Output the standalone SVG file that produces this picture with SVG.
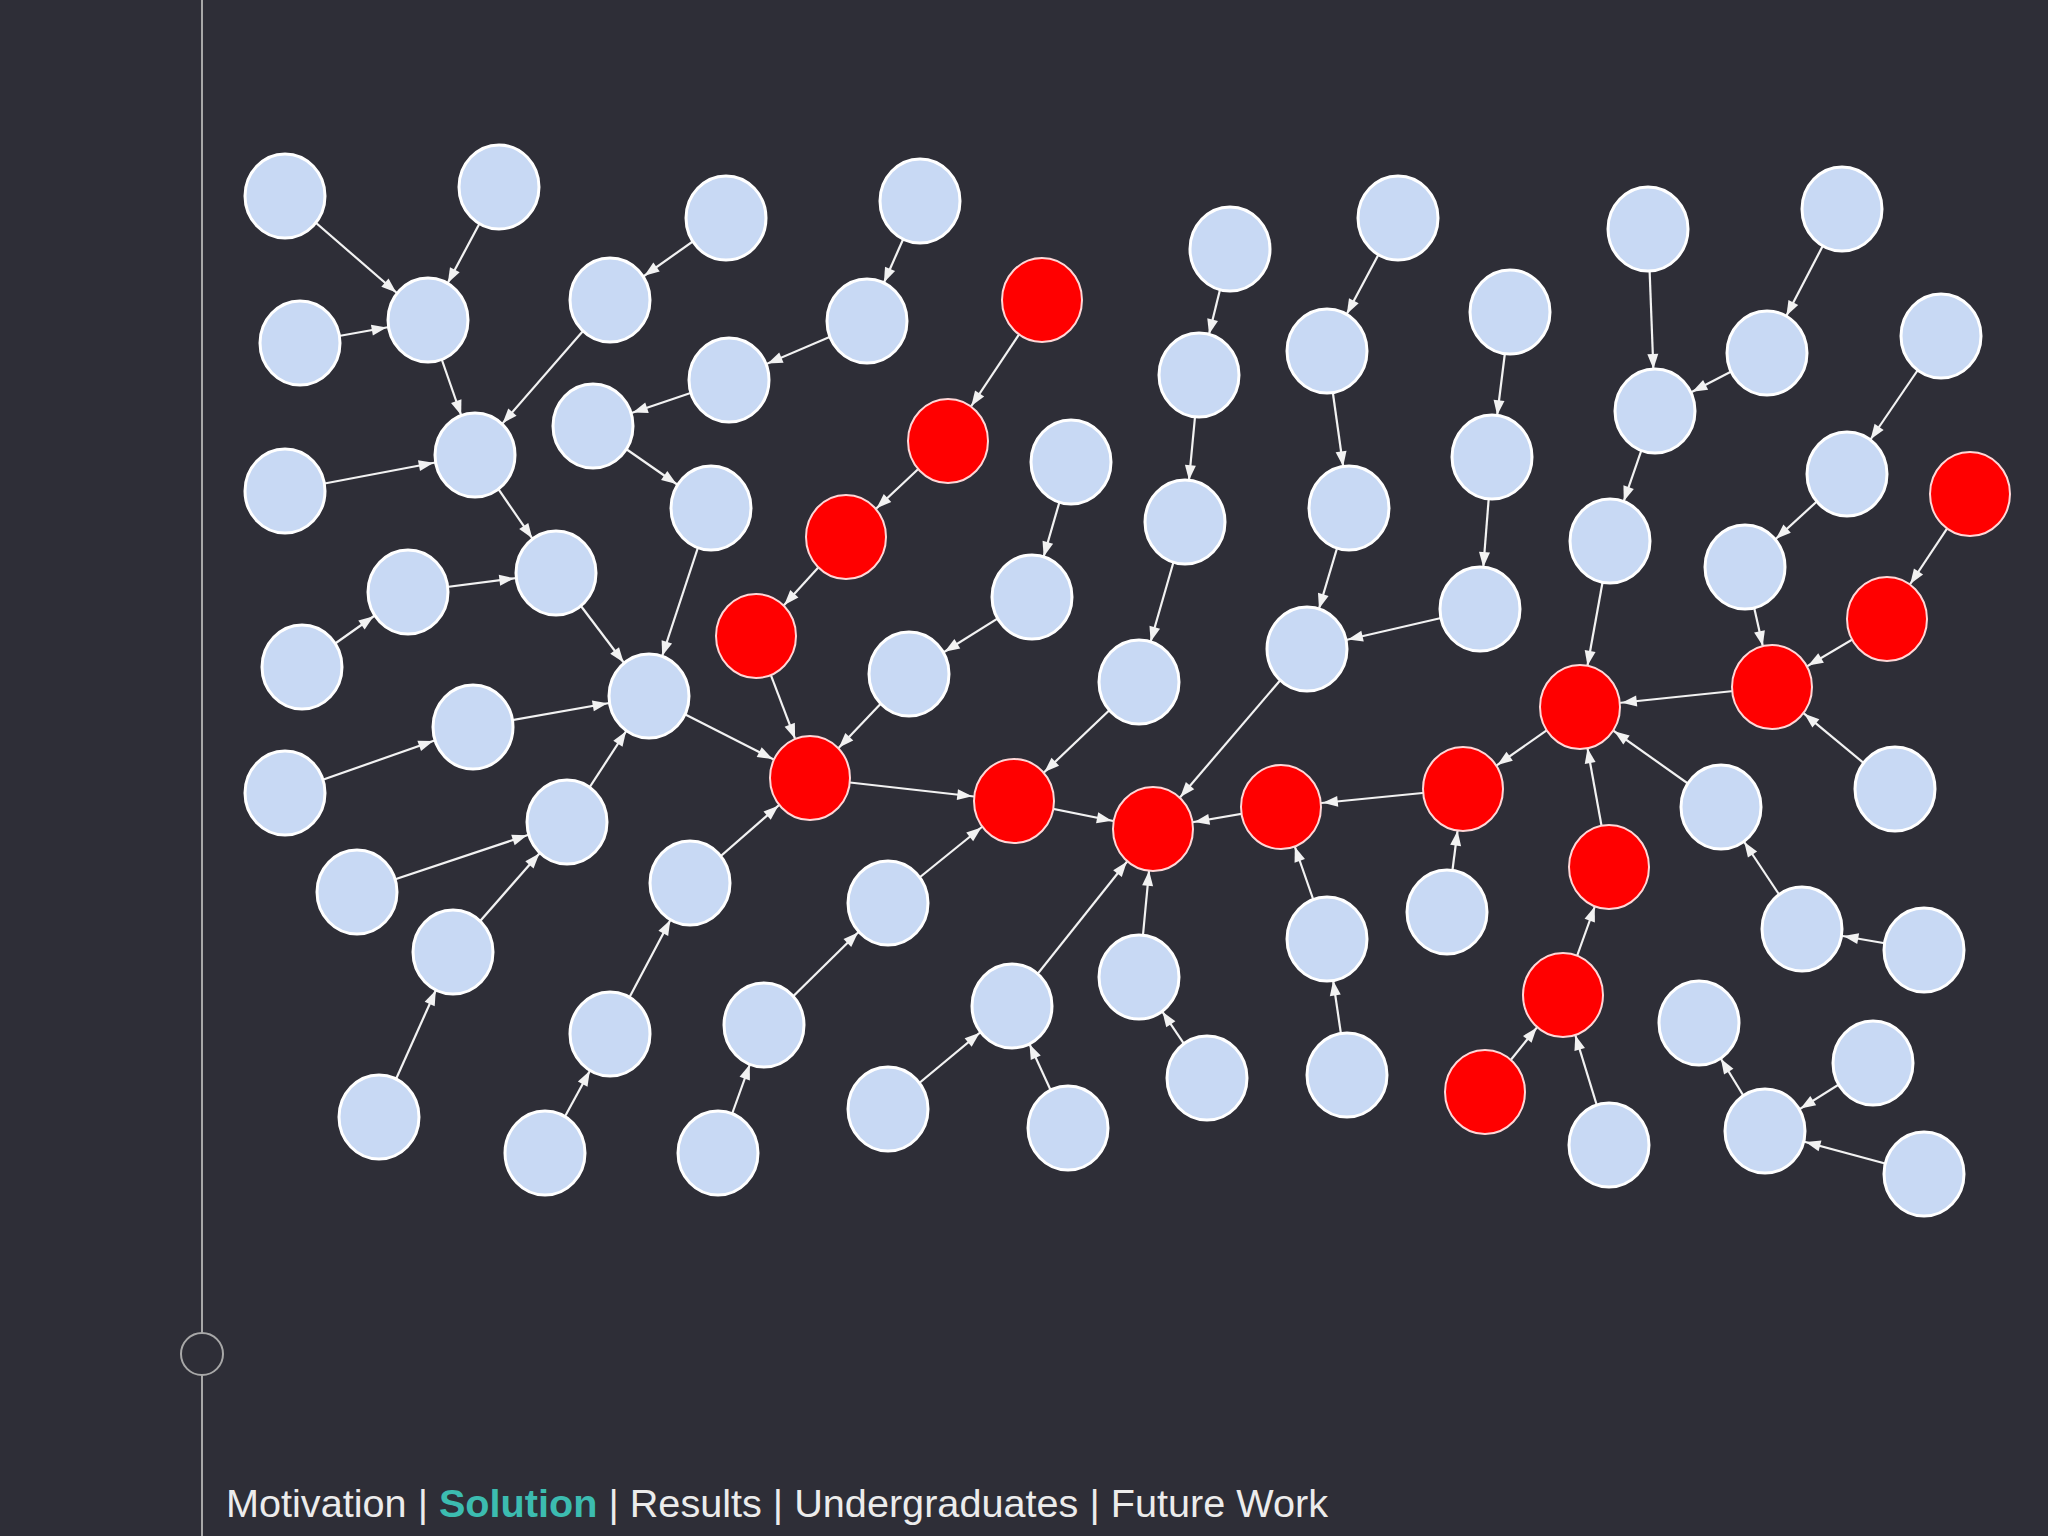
<svg xmlns="http://www.w3.org/2000/svg" width="2048" height="1536" viewBox="0 0 2048 1536">
<defs>
<style>
.e{stroke:#f2f2f2;stroke-width:2.2;fill:none;marker-end:url(#arr)}
.n{fill:#c8d9f4;stroke:#ffffff;stroke-width:3}
.r{fill:#ff0000;stroke:#ffd6d6;stroke-width:2}
.nav{font-family:"Liberation Sans",Arial,sans-serif;font-size:39.6px;fill:#ececec}
.act{fill:#3cbcb0;font-weight:bold}
</style>
<marker id="arr" markerUnits="userSpaceOnUse" orient="auto" refX="57" refY="0" markerWidth="60" markerHeight="12" overflow="visible">
<path d="M0,-5.5 L15,0 L0,5.5 z" fill="#f2f2f2"/>
</marker>
</defs>
<rect width="2048" height="1536" fill="#2e2e37"/>
<g id="sidebar" stroke="#a8a8a8" stroke-width="2" fill="none">
<line x1="202" y1="0" x2="202" y2="1333"/>
<circle cx="202" cy="1354" r="21"/>
<line x1="202" y1="1375" x2="202" y2="1536"/>
</g>
<g id="connectors">
<line class="e" x1="285" y1="196" x2="428" y2="320"/>
<line class="e" x1="499" y1="187" x2="428" y2="320"/>
<line class="e" x1="300" y1="343" x2="428" y2="320"/>
<line class="e" x1="428" y1="320" x2="475" y2="455"/>
<line class="e" x1="726" y1="218" x2="610" y2="300"/>
<line class="e" x1="610" y1="300" x2="475" y2="455"/>
<line class="e" x1="920" y1="201" x2="867" y2="321"/>
<line class="e" x1="867" y1="321" x2="729" y2="380"/>
<line class="e" x1="729" y1="380" x2="593" y2="426"/>
<line class="e" x1="593" y1="426" x2="711" y2="508"/>
<line class="e" x1="285" y1="491" x2="475" y2="455"/>
<line class="e" x1="475" y1="455" x2="556" y2="573"/>
<line class="e" x1="408" y1="592" x2="556" y2="573"/>
<line class="e" x1="302" y1="667" x2="408" y2="592"/>
<line class="e" x1="556" y1="573" x2="649" y2="696"/>
<line class="e" x1="711" y1="508" x2="649" y2="696"/>
<line class="e" x1="473" y1="727" x2="649" y2="696"/>
<line class="e" x1="285" y1="793" x2="473" y2="727"/>
<line class="e" x1="567" y1="822" x2="649" y2="696"/>
<line class="e" x1="357" y1="892" x2="567" y2="822"/>
<line class="e" x1="453" y1="952" x2="567" y2="822"/>
<line class="e" x1="379" y1="1117" x2="453" y2="952"/>
<line class="e" x1="649" y1="696" x2="810" y2="778"/>
<line class="e" x1="690" y1="883" x2="810" y2="778"/>
<line class="e" x1="610" y1="1034" x2="690" y2="883"/>
<line class="e" x1="545" y1="1153" x2="610" y2="1034"/>
<line class="e" x1="718" y1="1153" x2="764" y2="1025"/>
<line class="e" x1="764" y1="1025" x2="888" y2="903"/>
<line class="e" x1="888" y1="903" x2="1014" y2="801"/>
<line class="e" x1="1042" y1="300" x2="948" y2="441"/>
<line class="e" x1="948" y1="441" x2="846" y2="537"/>
<line class="e" x1="846" y1="537" x2="756" y2="636"/>
<line class="e" x1="756" y1="636" x2="810" y2="778"/>
<line class="e" x1="1071" y1="462" x2="1032" y2="597"/>
<line class="e" x1="1032" y1="597" x2="909" y2="674"/>
<line class="e" x1="909" y1="674" x2="810" y2="778"/>
<line class="e" x1="810" y1="778" x2="1014" y2="801"/>
<line class="e" x1="1014" y1="801" x2="1153" y2="829"/>
<line class="e" x1="1230" y1="249" x2="1199" y2="375"/>
<line class="e" x1="1199" y1="375" x2="1185" y2="522"/>
<line class="e" x1="1185" y1="522" x2="1139" y2="682"/>
<line class="e" x1="1139" y1="682" x2="1014" y2="801"/>
<line class="e" x1="1398" y1="218" x2="1327" y2="351"/>
<line class="e" x1="1327" y1="351" x2="1349" y2="508"/>
<line class="e" x1="1349" y1="508" x2="1307" y2="649"/>
<line class="e" x1="1307" y1="649" x2="1153" y2="829"/>
<line class="e" x1="1510" y1="312" x2="1492" y2="457"/>
<line class="e" x1="1492" y1="457" x2="1480" y2="609"/>
<line class="e" x1="1480" y1="609" x2="1307" y2="649"/>
<line class="e" x1="1281" y1="807" x2="1153" y2="829"/>
<line class="e" x1="1463" y1="789" x2="1281" y2="807"/>
<line class="e" x1="1447" y1="912" x2="1463" y2="789"/>
<line class="e" x1="1327" y1="939" x2="1281" y2="807"/>
<line class="e" x1="1347" y1="1075" x2="1327" y2="939"/>
<line class="e" x1="1139" y1="977" x2="1153" y2="829"/>
<line class="e" x1="1207" y1="1078" x2="1139" y2="977"/>
<line class="e" x1="1012" y1="1006" x2="1153" y2="829"/>
<line class="e" x1="888" y1="1109" x2="1012" y2="1006"/>
<line class="e" x1="1068" y1="1128" x2="1012" y2="1006"/>
<line class="e" x1="1580" y1="707" x2="1463" y2="789"/>
<line class="e" x1="1772" y1="687" x2="1580" y2="707"/>
<line class="e" x1="1887" y1="619" x2="1772" y2="687"/>
<line class="e" x1="1970" y1="494" x2="1887" y2="619"/>
<line class="e" x1="1745" y1="567" x2="1772" y2="687"/>
<line class="e" x1="1895" y1="789" x2="1772" y2="687"/>
<line class="e" x1="1721" y1="807" x2="1580" y2="707"/>
<line class="e" x1="1609" y1="867" x2="1580" y2="707"/>
<line class="e" x1="1563" y1="995" x2="1609" y2="867"/>
<line class="e" x1="1485" y1="1092" x2="1563" y2="995"/>
<line class="e" x1="1609" y1="1145" x2="1563" y2="995"/>
<line class="e" x1="1610" y1="541" x2="1580" y2="707"/>
<line class="e" x1="1655" y1="411" x2="1610" y2="541"/>
<line class="e" x1="1648" y1="229" x2="1655" y2="411"/>
<line class="e" x1="1767" y1="353" x2="1655" y2="411"/>
<line class="e" x1="1842" y1="209" x2="1767" y2="353"/>
<line class="e" x1="1941" y1="336" x2="1847" y2="474"/>
<line class="e" x1="1847" y1="474" x2="1745" y2="567"/>
<line class="e" x1="1802" y1="929" x2="1721" y2="807"/>
<line class="e" x1="1924" y1="950" x2="1802" y2="929"/>
<line class="e" x1="1765" y1="1131" x2="1699" y2="1023"/>
<line class="e" x1="1873" y1="1063" x2="1765" y2="1131"/>
<line class="e" x1="1924" y1="1174" x2="1765" y2="1131"/>
</g>
<g id="nodes">
<ellipse id="A1" class="n" cx="285" cy="196" rx="40" ry="42"/>
<ellipse id="A2" class="n" cx="499" cy="187" rx="40" ry="42"/>
<ellipse id="A3" class="n" cx="726" cy="218" rx="40" ry="42"/>
<ellipse id="A4" class="n" cx="920" cy="201" rx="40" ry="42"/>
<ellipse id="A5" class="n" cx="300" cy="343" rx="40" ry="42"/>
<ellipse id="A6" class="n" cx="428" cy="320" rx="40" ry="42"/>
<ellipse id="A7" class="n" cx="610" cy="300" rx="40" ry="42"/>
<ellipse id="A8" class="n" cx="867" cy="321" rx="40" ry="42"/>
<ellipse id="A9" class="n" cx="729" cy="380" rx="40" ry="42"/>
<ellipse id="A10" class="n" cx="285" cy="491" rx="40" ry="42"/>
<ellipse id="A11" class="n" cx="475" cy="455" rx="40" ry="42"/>
<ellipse id="A12" class="n" cx="593" cy="426" rx="40" ry="42"/>
<ellipse id="A13" class="n" cx="711" cy="508" rx="40" ry="42"/>
<ellipse id="A14" class="n" cx="1071" cy="462" rx="40" ry="42"/>
<ellipse id="A15" class="n" cx="408" cy="592" rx="40" ry="42"/>
<ellipse id="A16" class="n" cx="556" cy="573" rx="40" ry="42"/>
<ellipse id="A17" class="n" cx="302" cy="667" rx="40" ry="42"/>
<ellipse id="A18" class="n" cx="1032" cy="597" rx="40" ry="42"/>
<ellipse id="A19" class="n" cx="649" cy="696" rx="40" ry="42"/>
<ellipse id="A20" class="n" cx="909" cy="674" rx="40" ry="42"/>
<ellipse id="A21" class="n" cx="473" cy="727" rx="40" ry="42"/>
<ellipse id="A22" class="n" cx="285" cy="793" rx="40" ry="42"/>
<ellipse id="A23" class="n" cx="567" cy="822" rx="40" ry="42"/>
<ellipse id="A24" class="n" cx="357" cy="892" rx="40" ry="42"/>
<ellipse id="A25" class="n" cx="690" cy="883" rx="40" ry="42"/>
<ellipse id="A26" class="n" cx="888" cy="903" rx="40" ry="42"/>
<ellipse id="A27" class="n" cx="453" cy="952" rx="40" ry="42"/>
<ellipse id="A28" class="n" cx="610" cy="1034" rx="40" ry="42"/>
<ellipse id="A29" class="n" cx="764" cy="1025" rx="40" ry="42"/>
<ellipse id="A30" class="n" cx="379" cy="1117" rx="40" ry="42"/>
<ellipse id="A31" class="n" cx="545" cy="1153" rx="40" ry="42"/>
<ellipse id="A32" class="n" cx="718" cy="1153" rx="40" ry="42"/>
<ellipse id="R1" class="r" cx="1042" cy="300" rx="40" ry="42"/>
<ellipse id="R2" class="r" cx="948" cy="441" rx="40" ry="42"/>
<ellipse id="R3" class="r" cx="846" cy="537" rx="40" ry="42"/>
<ellipse id="R4" class="r" cx="756" cy="636" rx="40" ry="42"/>
<ellipse id="R5" class="r" cx="810" cy="778" rx="40" ry="42"/>
<ellipse id="R6" class="r" cx="1014" cy="801" rx="40" ry="42"/>
<ellipse id="B1" class="n" cx="1230" cy="249" rx="40" ry="42"/>
<ellipse id="B2" class="n" cx="1398" cy="218" rx="40" ry="42"/>
<ellipse id="B3" class="n" cx="1199" cy="375" rx="40" ry="42"/>
<ellipse id="B4" class="n" cx="1327" cy="351" rx="40" ry="42"/>
<ellipse id="B5" class="n" cx="1510" cy="312" rx="40" ry="42"/>
<ellipse id="B6" class="n" cx="1185" cy="522" rx="40" ry="42"/>
<ellipse id="B7" class="n" cx="1349" cy="508" rx="40" ry="42"/>
<ellipse id="B8" class="n" cx="1492" cy="457" rx="40" ry="42"/>
<ellipse id="B9" class="n" cx="1139" cy="682" rx="40" ry="42"/>
<ellipse id="B10" class="n" cx="1307" cy="649" rx="40" ry="42"/>
<ellipse id="B11" class="n" cx="1480" cy="609" rx="40" ry="42"/>
<ellipse id="R7" class="r" cx="1153" cy="829" rx="40" ry="42"/>
<ellipse id="R8" class="r" cx="1281" cy="807" rx="40" ry="42"/>
<ellipse id="R9" class="r" cx="1463" cy="789" rx="40" ry="42"/>
<ellipse id="B12" class="n" cx="1327" cy="939" rx="40" ry="42"/>
<ellipse id="B13" class="n" cx="1447" cy="912" rx="40" ry="42"/>
<ellipse id="B14" class="n" cx="1012" cy="1006" rx="40" ry="42"/>
<ellipse id="B15" class="n" cx="1139" cy="977" rx="40" ry="42"/>
<ellipse id="B16" class="n" cx="888" cy="1109" rx="40" ry="42"/>
<ellipse id="B17" class="n" cx="1068" cy="1128" rx="40" ry="42"/>
<ellipse id="B18" class="n" cx="1207" cy="1078" rx="40" ry="42"/>
<ellipse id="B19" class="n" cx="1347" cy="1075" rx="40" ry="42"/>
<ellipse id="C1" class="n" cx="1648" cy="229" rx="40" ry="42"/>
<ellipse id="C2" class="n" cx="1842" cy="209" rx="40" ry="42"/>
<ellipse id="C3" class="n" cx="1941" cy="336" rx="40" ry="42"/>
<ellipse id="C4" class="n" cx="1767" cy="353" rx="40" ry="42"/>
<ellipse id="C5" class="n" cx="1655" cy="411" rx="40" ry="42"/>
<ellipse id="C6" class="n" cx="1847" cy="474" rx="40" ry="42"/>
<ellipse id="R10" class="r" cx="1970" cy="494" rx="40" ry="42"/>
<ellipse id="C7" class="n" cx="1610" cy="541" rx="40" ry="42"/>
<ellipse id="C8" class="n" cx="1745" cy="567" rx="40" ry="42"/>
<ellipse id="R11" class="r" cx="1887" cy="619" rx="40" ry="42"/>
<ellipse id="R12" class="r" cx="1580" cy="707" rx="40" ry="42"/>
<ellipse id="R13" class="r" cx="1772" cy="687" rx="40" ry="42"/>
<ellipse id="C9" class="n" cx="1895" cy="789" rx="40" ry="42"/>
<ellipse id="C10" class="n" cx="1721" cy="807" rx="40" ry="42"/>
<ellipse id="R14" class="r" cx="1609" cy="867" rx="40" ry="42"/>
<ellipse id="C11" class="n" cx="1802" cy="929" rx="40" ry="42"/>
<ellipse id="C12" class="n" cx="1924" cy="950" rx="40" ry="42"/>
<ellipse id="R15" class="r" cx="1563" cy="995" rx="40" ry="42"/>
<ellipse id="C13" class="n" cx="1699" cy="1023" rx="40" ry="42"/>
<ellipse id="C14" class="n" cx="1873" cy="1063" rx="40" ry="42"/>
<ellipse id="R16" class="r" cx="1485" cy="1092" rx="40" ry="42"/>
<ellipse id="C15" class="n" cx="1765" cy="1131" rx="40" ry="42"/>
<ellipse id="C16" class="n" cx="1609" cy="1145" rx="40" ry="42"/>
<ellipse id="C17" class="n" cx="1924" cy="1174" rx="40" ry="42"/>
</g>
<text class="nav" x="226" y="1517" textLength="1102" lengthAdjust="spacingAndGlyphs">Motivation | <tspan class="act">Solution</tspan> | Results | Undergraduates | Future Work</text>
</svg>
